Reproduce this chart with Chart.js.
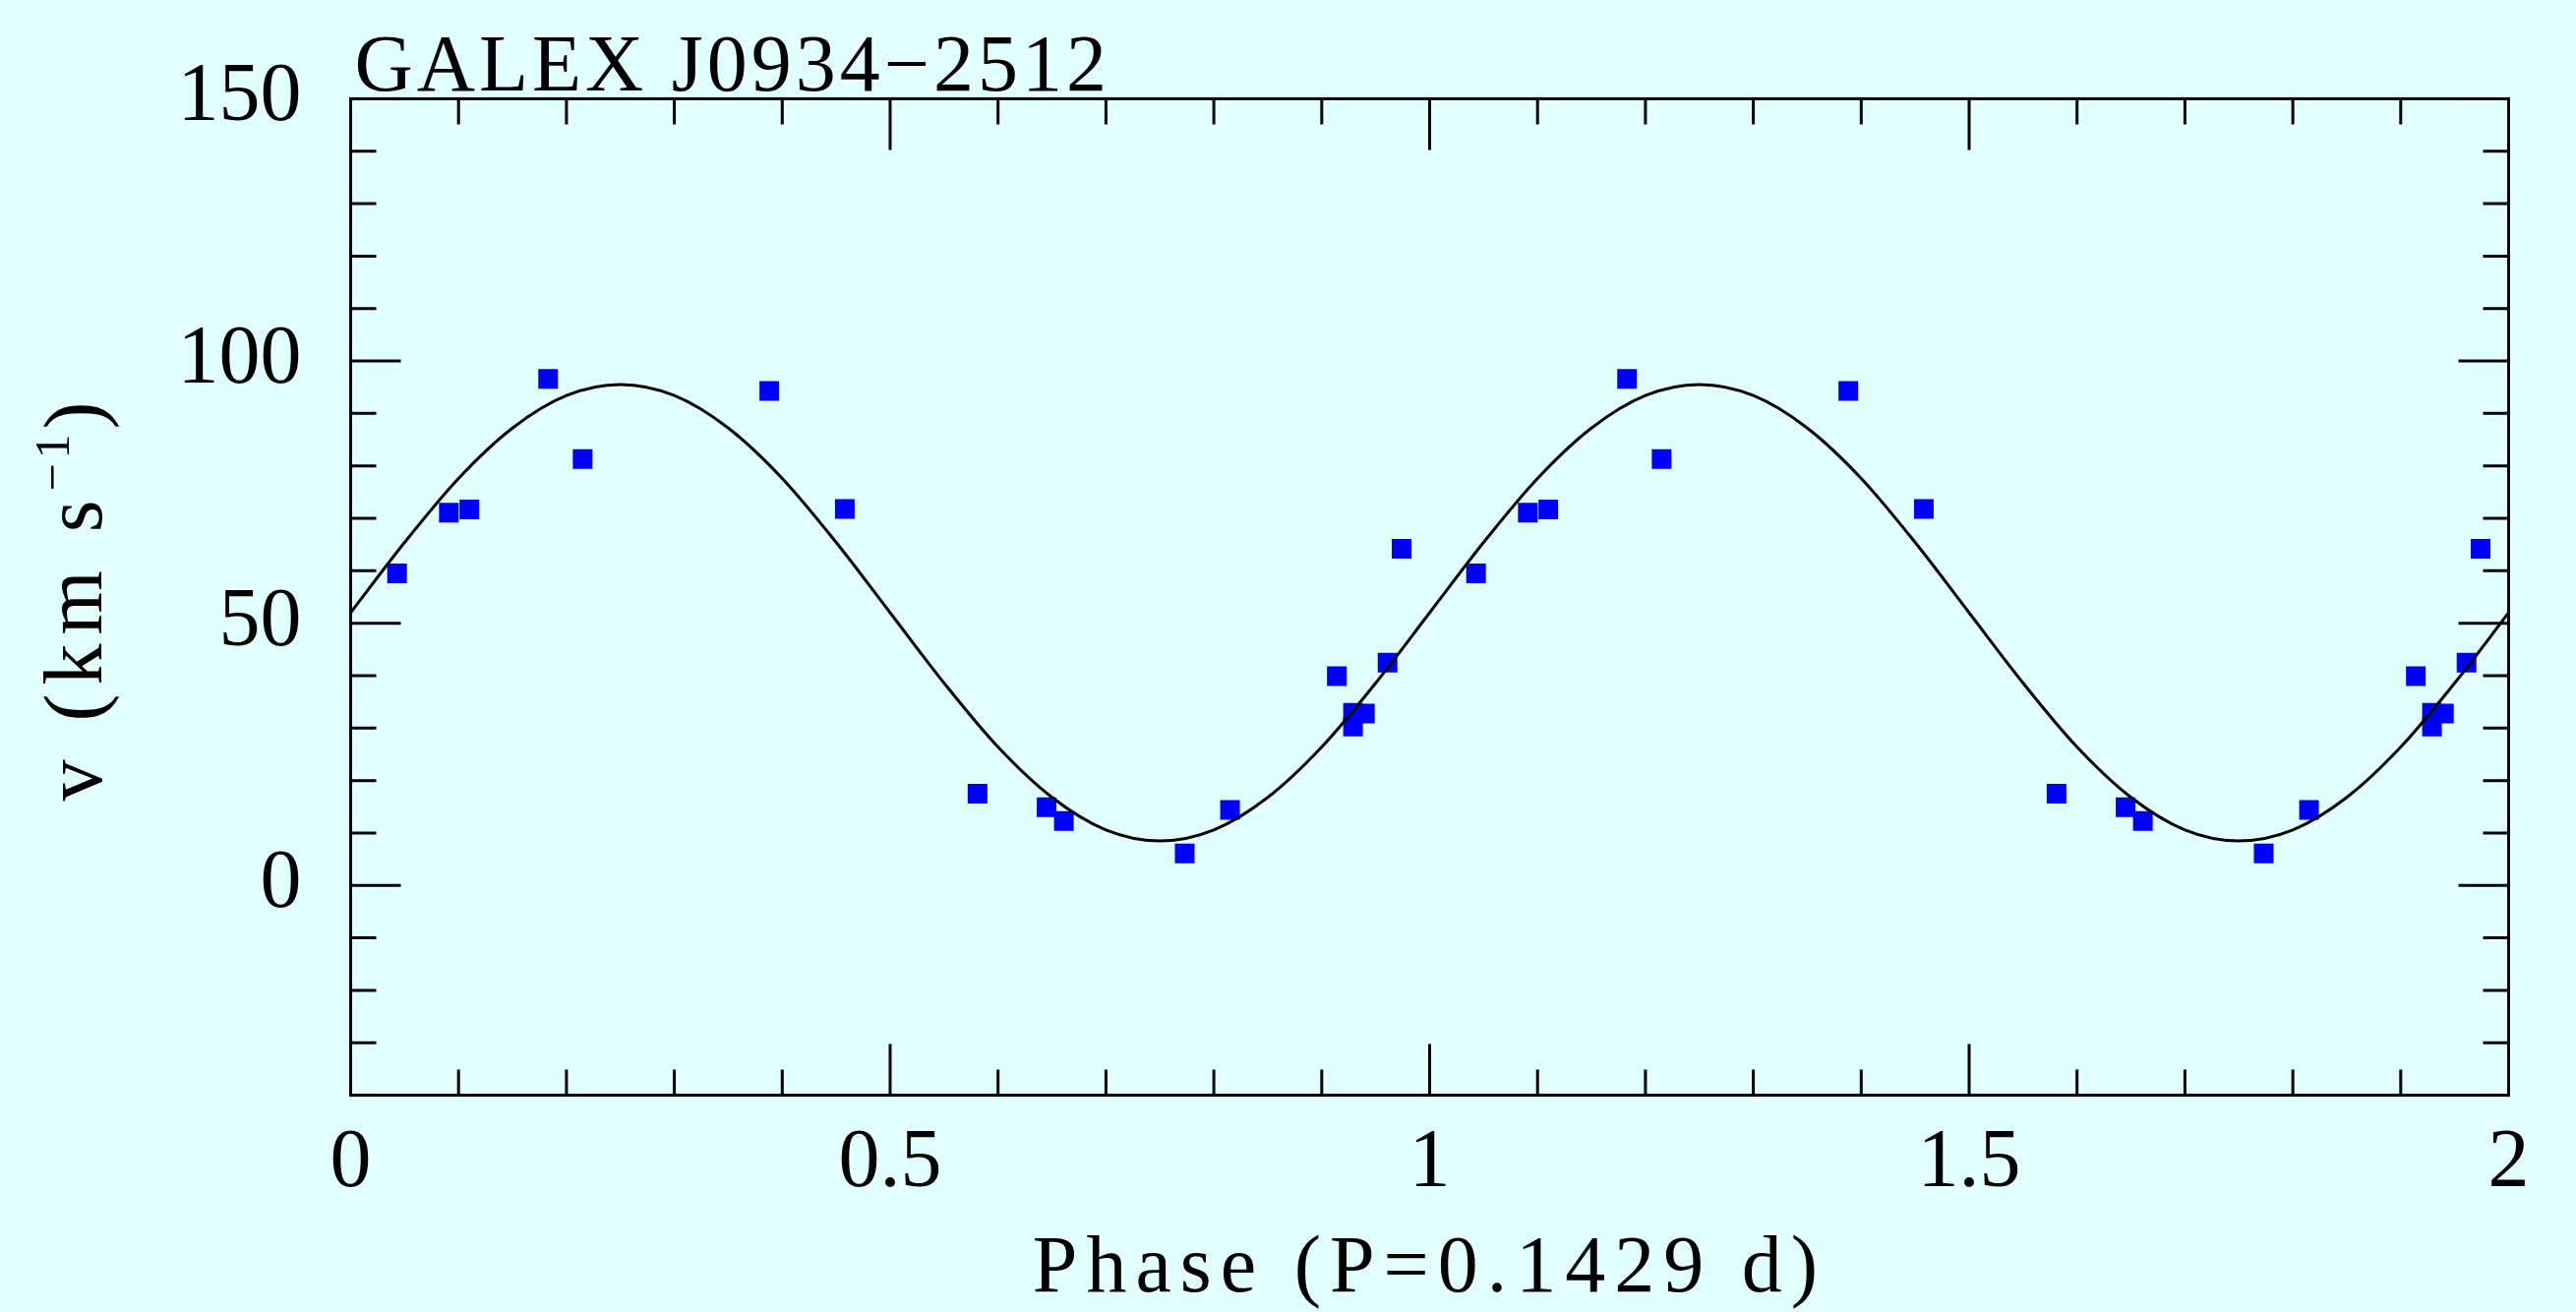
<!DOCTYPE html>
<html>
<head>
<meta charset="utf-8">
<script src="https://cdn.jsdelivr.net/npm/chart.js@4.4.1/dist/chart.umd.min.js"></script>
<style>
  html, body { margin: 0; padding: 0; background: #e2ffff; }
  canvas { display: block; }
</style>
</head>
<body>
<canvas id="rvChart" width="2619" height="1334"></canvas>
<script>
// GALEX J0934-2512 radial velocities, folded on P = 0.1429 d (plotted twice, phase 0-2)
var titleText = 'GALEX J0934\u22122512';
var xTitle = 'Phase (P=0.1429 d)';

// measured points (one cycle)
var phase    = [0.043, 0.091, 0.110, 0.183, 0.215, 0.388, 0.458, 0.581, 0.645, 0.661,
                0.773, 0.815, 0.914, 0.929, 0.940, 0.929, 0.961, 0.974];
var velocity = [59.5, 71.1, 71.7, 96.6, 81.3, 94.3, 71.8, 17.5, 14.9, 12.3,
                6.1, 14.4, 39.9, 32.9, 32.8, 30.3, 42.5, 64.2];

// fitted orbit, every 0.05 in phase
var fitPhase    = [0, 0.05, 0.10, 0.15, 0.20, 0.25, 0.30, 0.35, 0.40, 0.45, 0.50,
                   0.55, 0.60, 0.65, 0.70, 0.75, 0.80, 0.85, 0.90, 0.95, 1.00];
var fitVelocity = [52.0, 65.4, 77.6, 87.2, 93.4, 95.5, 93.4, 87.2, 77.6, 65.4, 52.0,
                   38.6, 26.4, 16.8, 10.6, 8.5, 10.6, 16.8, 26.4, 38.6, 52.0];

// axis ticks
var xMajor = 0.5, xMinor = 0.1;
var yMajor = 50, yMinor = 10;

// repeat the cycle once so the plot runs from phase 0 to 2
var pointData = [];
var curveData = [];
[0, 1].forEach(function(cycle) {
  for (var i = 0; i < phase.length; i++) {
    pointData.push({ x: phase[i] + cycle, y: velocity[i] });
  }
  for (var j = (cycle ? 1 : 0); j < fitPhase.length; j++) {
    curveData.push({ x: fitPhase[j] + cycle, y: fitVelocity[j] });
  }
});

function isMajor(v, step) {
  return Math.abs(v / step - Math.round(v / step)) < 1e-6;
}

var serif = '"Liberation Serif", "Times New Roman", serif';

// frame with inward ticks on all four sides, PGPLOT style
var framePlugin = {
  id: 'frame',
  afterDatasetsDraw: function(chart) {
    var ctx = chart.ctx, a = chart.chartArea;
    var xs = chart.scales.x, ys = chart.scales.y;
    ctx.save();
    ctx.strokeStyle = '#000';
    ctx.lineWidth = 3;
    ctx.strokeRect(a.left, a.top, a.right - a.left, a.bottom - a.top);
    ctx.beginPath();
    xs.ticks.forEach(function(t) {
      var px = xs.getPixelForValue(t.value);
      var len = isMajor(t.value, xMajor) ? 52 : 26;
      ctx.moveTo(px, a.bottom); ctx.lineTo(px, a.bottom - len);
      ctx.moveTo(px, a.top);    ctx.lineTo(px, a.top + len);
    });
    ys.ticks.forEach(function(t) {
      var py = ys.getPixelForValue(t.value);
      var len = isMajor(t.value, yMajor) ? 51 : 26;
      ctx.moveTo(a.left, py);  ctx.lineTo(a.left + len, py);
      ctx.moveTo(a.right, py); ctx.lineTo(a.right - len, py);
    });
    ctx.stroke();
    ctx.restore();
  }
};

// title and axis labels, spaced out like the Hershey font
var labelPlugin = {
  id: 'labels',
  afterDraw: function(chart) {
    var ctx = chart.ctx, a = chart.chartArea;
    ctx.save();
    ctx.fillStyle = '#000';
    ctx.textBaseline = 'alphabetic';

    ctx.font = '82px ' + serif;
    ctx.letterSpacing = '4px';
    ctx.textAlign = 'left';
    ctx.fillText(titleText, a.left + 4, a.top - 8);

    ctx.letterSpacing = '9px';
    ctx.textAlign = 'center';
    ctx.fillText(xTitle, (a.left + a.right) / 2, 1313);

    // y label: v (km s^-1), rotated
    ctx.textAlign = 'left';
    ctx.translate(103, (a.top + a.bottom) / 2);
    ctx.rotate(-Math.PI / 2);
    var main = 'v (km s', sup = '\u22121', tail = ')';
    ctx.font = '84px ' + serif;
    var w1 = ctx.measureText(main).width;
    var w3 = ctx.measureText(tail).width;
    ctx.font = '50px ' + serif;
    ctx.letterSpacing = '5px';
    var w2 = ctx.measureText(sup).width;
    var x0 = -(w1 + w2 + w3) / 2;
    ctx.fillText(sup, x0 + w1, -33);
    ctx.font = '84px ' + serif;
    ctx.letterSpacing = '9px';
    ctx.fillText(main, x0, 0);
    ctx.fillText(tail, x0 + w1 + w2, 0);
    ctx.restore();
  }
};

var ctx = document.getElementById('rvChart').getContext('2d');
var rvChart = new Chart(ctx, {
  type: 'scatter',
  data: {
    datasets: [{
      type: 'line',
      label: 'fit',
      data: curveData,
      borderColor: '#000',
      borderWidth: 3,
      pointRadius: 0,
      fill: false,
      cubicInterpolationMode: 'monotone',
      order: 0
    }, {
      label: 'RV',
      data: pointData,
      pointStyle: 'rect',
      pointRadius: 14.14,
      pointBorderWidth: 0,
      backgroundColor: '#0000ff',
      borderColor: '#0000ff',
      order: 1
    }]
  },
  options: {
    responsive: false,
    animation: false,
    devicePixelRatio: 1,
    layout: { padding: { left: 0, right: 68.5, top: 100.4, bottom: 0 } },
    plugins: {
      legend: { display: false },
      tooltip: { enabled: false },
      title: { display: false }
    },
    scales: {
      x: {
        type: 'linear',
        min: 0,
        max: 2,
        grid: { display: false, drawTicks: false },
        border: { display: false },
        ticks: {
          stepSize: xMinor,
          autoSkip: false,
          maxRotation: 0,
          padding: 20,
          color: '#000',
          font: { family: serif, size: 84, lineHeight: 1.2 },
          callback: function(v) {
            return isMajor(v, xMajor) ? String(Math.round(v * 10) / 10) : '';
          }
        },
        afterFit: function(scale) { scale.height = 1334 - 1113.6; }
      },
      y: {
        type: 'linear',
        min: -40,
        max: 150,
        grid: { display: false, drawTicks: false },
        border: { display: false },
        ticks: {
          stepSize: yMinor,
          autoSkip: false,
          padding: 50,
          color: '#000',
          font: { family: serif, size: 84, lineHeight: 1.2 },
          callback: function(v) {
            return isMajor(v, yMajor) ? String(Math.round(v)) : '';
          }
        },
        afterFit: function(scale) { scale.width = 356.5; }
      }
    }
  },
  plugins: [framePlugin, labelPlugin]
});
</script>
</body>
</html>
